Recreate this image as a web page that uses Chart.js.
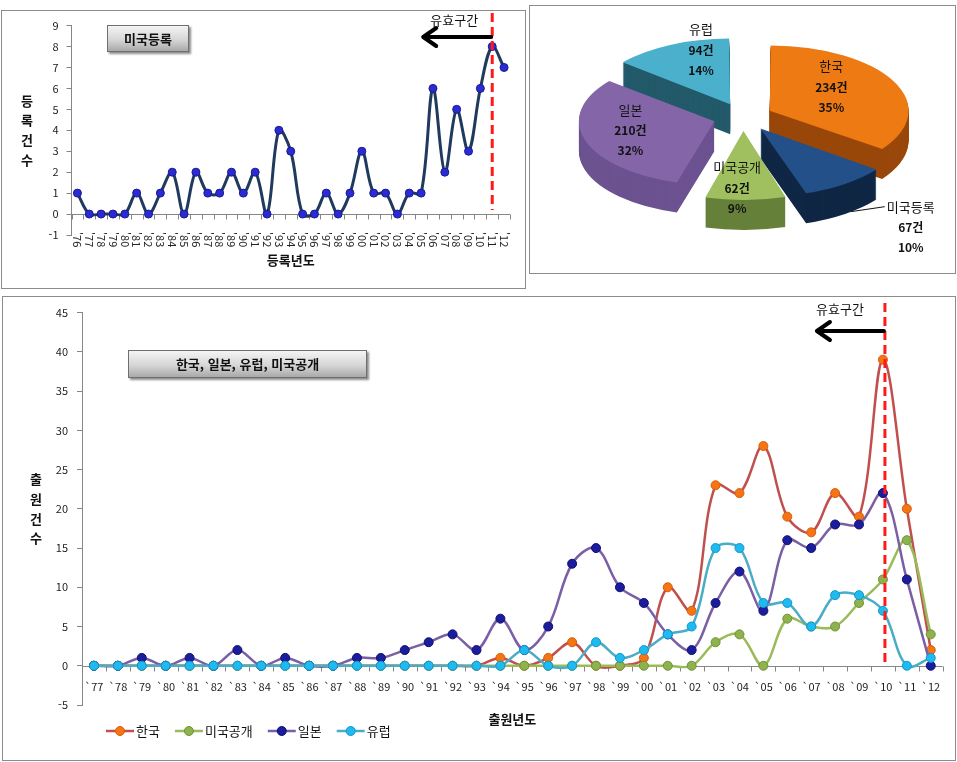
<!DOCTYPE html>
<html lang="ko">
<head>
<meta charset="utf-8">
<script src="https://cdn.jsdelivr.net/npm/chart.js@4.4.1/dist/chart.umd.min.js"></script>
<style>
  body { margin: 0; background: #fff; width: 957px; height: 762px; position: relative; overflow: hidden;
         font-family: 'Noto Sans CJK KR', sans-serif; }
  .panel { position: absolute; border: 1px solid #8c8c8c; box-sizing: border-box; background: #fff; }
  .panel canvas { position: absolute; left: 0; top: 0; }
  .tag { position: absolute; box-sizing: border-box; border: 1px solid #6f6f6f;
         background: linear-gradient(#f4f4f4, #d6d6d6 55%, #a9a9a9);
         box-shadow: 2px 2px 2px rgba(0,0,0,0.45); color: #111; font-weight: bold;
         font-size: 13px; text-align: center; }
</style>
</head>
<body>
<div class="panel" style="left:1px;top:10px;width:525px;height:279px"><canvas id="regChart" width="523" height="277"></canvas></div>
<div class="panel" style="left:529px;top:5px;width:427px;height:269px"><canvas id="shareChart" width="425" height="267"></canvas></div>
<div class="panel" style="left:2px;top:296px;width:954px;height:465px"><canvas id="fileChart" width="952" height="463"></canvas></div>
<div class="tag" style="left:107px;top:25px;width:82px;height:27px;line-height:25px">미국등록</div>
<div class="tag" style="left:128px;top:350px;width:239px;height:28px;line-height:26px">한국, 일본, 유럽, 미국공개</div>

<script>
// ---- data ----
const regYears = ["'76","'77","'78","'79","'80","'81","'82","'83","'84","'85","'86","'87","'88","'89",
  "'90","'91","'92","'93","'94","'95","'96","'97","'98","'99","'00","'01","'02","'03","'04","'05",
  "'06","'07","'08","'09","'10","'11","'12"];
const usRegistered = [1,0,0,0,0,1,0,1,2,0,2,1,1,2,1,2,0,4,3,0,0,1,0,1,3,1,1,0,1,1,6,2,5,3,6,8,7];
const regCutoff = "'11";

const fileYears = ["`77","`78","`79","`80","`81","`82","`83","`84","`85","`86","`87","`88","`89",
  "`90","`91","`92","`93","`94","`95","`96","`97","`98","`99","`00","`01","`02","`03","`04","`05",
  "`06","`07","`08","`09","`10","`11","`12"];
const korea  = [0,0,0,0,0,0,0,0,0,0,0,0,0,0,0,0,0,1,0,1,3,0,0,1,10,7,23,22,28,19,17,22,19,39,20,2];
const usPub  = [0,0,0,0,0,0,0,0,0,0,0,0,0,0,0,0,0,0,0,0,0,0,0,0,0,0,3,4,0,6,5,5,8,11,16,4];
const japan  = [0,0,1,0,1,0,2,0,1,0,0,1,1,2,3,4,2,6,2,5,13,15,10,8,4,2,8,12,7,16,15,18,18,22,11,0];
const europe = [0,0,0,0,0,0,0,0,0,0,0,0,0,0,0,0,0,0,2,0,0,3,1,2,4,5,15,15,8,8,5,9,9,7,0,1];
const fileCutoff = "`10";

const shareLabels = ['한국', '미국등록', '미국공개', '일본', '유럽'];
const shareCounts = [234, 67, 62, 210, 94];
const sharePct = [35, 10, 9, 32, 14];

const regTicks = [-1, 9, 1];
const fileTicks = [-5, 45, 5];

// ---- shared ----
const FONT = "'Noto Sans CJK KR', 'DejaVu Sans', sans-serif";
Chart.defaults.font.family = FONT;
Chart.defaults.color = '#222';
Chart.defaults.animation = false;
const AXIS = '#868686';

function yAxis(ticks, width, pad) {
  return {
    min: ticks[0], max: ticks[1],
    ticks: { stepSize: ticks[2], padding: pad, font: { size: 11 }, color: '#222' },
    grid: { drawOnChartArea: false, tickLength: 5, color: AXIS },
    border: { color: AXIS },
    afterFit(s) { s.width = width; }
  };
}

function zeroAxis(chart, tickLen) {
  const { ctx, chartArea: a, scales: { x, y } } = chart;
  const y0 = Math.round(y.getPixelForValue(0)) + 0.5;
  const step = x.getPixelForValue(1) - x.getPixelForValue(0);
  ctx.save();
  ctx.strokeStyle = AXIS;
  ctx.lineWidth = 1;
  ctx.beginPath();
  ctx.moveTo(a.left, y0);
  ctx.lineTo(a.right, y0);
  for (let i = 0; i <= chart.data.labels.length; i++) {
    const px = Math.round(x.getPixelForValue(i) - step / 2) + 0.5;
    ctx.moveTo(px, y0);
    ctx.lineTo(px, y0 + tickLen);
  }
  ctx.stroke();
  ctx.restore();
}

function stackedTitle(ctx, text, cx, cy, gap) {
  ctx.save();
  ctx.font = 'bold 13px ' + FONT;
  ctx.fillStyle = '#111';
  ctx.textAlign = 'center';
  ctx.textBaseline = 'middle';
  const chars = [...text];
  chars.forEach((ch, i) => ctx.fillText(ch, cx, cy + (i - (chars.length - 1) / 2) * gap));
  ctx.restore();
}

function cutoffMark(ctx, px, top, bottom, arrowY, arrowLen, textX, textY) {
  ctx.save();
  ctx.strokeStyle = '#ff1a1a';
  ctx.lineWidth = 3;
  ctx.setLineDash([9, 5]);
  ctx.beginPath();
  ctx.moveTo(px, top);
  ctx.lineTo(px, bottom);
  ctx.stroke();
  ctx.setLineDash([]);
  ctx.strokeStyle = '#000';
  ctx.lineWidth = 4;
  ctx.lineCap = 'round';
  ctx.lineJoin = 'round';
  const xl = px - arrowLen;
  ctx.beginPath();
  ctx.moveTo(px - 1, arrowY);
  ctx.lineTo(xl, arrowY);
  ctx.moveTo(xl + 13, arrowY - 9);
  ctx.lineTo(xl, arrowY);
  ctx.lineTo(xl + 13, arrowY + 9);
  ctx.stroke();
  ctx.font = '13px ' + FONT;
  ctx.fillStyle = '#111';
  ctx.textAlign = 'center';
  ctx.textBaseline = 'middle';
  ctx.fillText('유효구간', textX, textY);
  ctx.restore();
}

// ---- US registration line ----
const regDecor = {
  id: 'regDecor',
  beforeDatasetsDraw(chart) { zeroAxis(chart, 5); },
  afterDraw(chart) {
    const { ctx, chartArea: a, scales: { x, y } } = chart;
    ctx.save();
    ctx.font = '11px ' + FONT;
    ctx.fillStyle = '#222';
    ctx.textAlign = 'left';
    ctx.textBaseline = 'middle';
    chart.data.labels.forEach((lbl, i) => {
      ctx.save();
      ctx.translate(x.getPixelForValue(i), a.bottom - 3);
      ctx.rotate(Math.PI / 2);
      ctx.fillText(lbl, 0, 0);
      ctx.restore();
    });
    ctx.font = 'bold 13px ' + FONT;
    ctx.fillStyle = '#111';
    ctx.textAlign = 'center';
    ctx.fillText('등록년도', (a.left + a.right) / 2, 249);
    ctx.restore();
    stackedTitle(ctx, '등록건수', 25, (a.top + a.bottom) / 2, 19.7);
    const px = x.getPixelForValue(chart.data.labels.indexOf(regCutoff));
    cutoffMark(ctx, px, 2, y.getPixelForValue(0) - 4, 26, 69, px - 38, 9);
  }
};

new Chart(document.getElementById('regChart'), {
  type: 'line',
  data: {
    labels: regYears,
    datasets: [{
      label: '미국등록',
      data: usRegistered,
      borderColor: '#1f3a5c',
      borderWidth: 3,
      tension: 0.35,
      pointRadius: 4,
      pointBackgroundColor: '#2b2bd6',
      pointBorderColor: '#1a1a8c',
      pointBorderWidth: 1
    }]
  },
  options: {
    responsive: false,
    layout: { padding: { left: 0, right: 15, top: 11, bottom: 53 } },
    scales: {
      x: { display: false, offset: true },
      y: yAxis(regTicks, 69.5, 8)
    },
    plugins: { legend: { display: false }, tooltip: { enabled: false } }
  },
  plugins: [regDecor]
});

// ---- share pie (tilted, exploded) ----
const topColors = ['#ee7a14', '#24508a', '#a0c060', '#8466a8', '#4bb0cc'];
const sideColors = ['#99470a', '#0f2744', '#66803a', '#6c5290', '#235a6a'];
const TILT = 0.47, DEPTH = 30;
const labelPlace = [
  { r: 99, dx: 0, dy: -9 },
  null,
  { r: 151, dx: -8, dy: 0 },
  { r: 118, dx: 0, dy: -3 },
  { r: 98, dx: 0, dy: -25 }
];

const pie3d = {
  id: 'pie3d',
  beforeDatasetsDraw(chart) {
    const ctx = chart.ctx;
    const arcs = chart.getDatasetMeta(0).data;
    const cx = arcs[0].x, cy = arcs[0].y;
    for (let d = DEPTH; d >= 1; d--) {
      ctx.save();
      ctx.translate(cx, cy + d);
      ctx.scale(1, TILT);
      ctx.translate(-cx, -cy);
      arcs.forEach((arc, i) => {
        const side = Object.create(arc);
        side.options = Object.assign({}, arc.options, { backgroundColor: sideColors[i], borderColor: sideColors[i], borderWidth: 0 });
        side.draw(ctx);
      });
      ctx.restore();
    }
    ctx.save();
    ctx.translate(cx, cy);
    ctx.scale(1, TILT);
    ctx.translate(-cx, -cy);
  },
  afterDatasetsDraw(chart) { chart.ctx.restore(); },
  afterDraw(chart) {
    const ctx = chart.ctx;
    const arcs = chart.getDatasetMeta(0).data;
    const cx = arcs[0].x, cy = arcs[0].y;
    ctx.save();
    ctx.fillStyle = '#111';
    ctx.textAlign = 'center';
    ctx.textBaseline = 'middle';
    const lines = (i, x, y) => {
      ctx.font = '13px ' + FONT;
      ctx.fillText(chart.data.labels[i], x, y - 21);
      ctx.font = 'bold 12px ' + FONT;
      ctx.fillText(shareCounts[i] + '건', x, y);
      ctx.fillText(sharePct[i] + '%', x, y + 20);
    };
    arcs.forEach((arc, i) => {
      const mid = (arc.startAngle + arc.endAngle) / 2;
      const p = labelPlace[i];
      if (p) {
        lines(i, cx + Math.cos(mid) * p.r + p.dx, cy + Math.sin(mid) * p.r * TILT + p.dy);
      } else {
        const ax = cx + Math.cos(mid) * 185;
        const ay = cy + Math.sin(mid) * 185 * TILT + 24;
        ctx.strokeStyle = '#111';
        ctx.lineWidth = 1;
        ctx.beginPath();
        ctx.moveTo(ax, ay);
        ctx.lineTo(ax + 34, ay - 5);
        ctx.stroke();
        lines(i, ax + 60, ay + 16);
      }
    });
    ctx.restore();
  }
};

new Chart(document.getElementById('shareChart'), {
  type: 'pie',
  data: {
    labels: shareLabels,
    datasets: [{ data: shareCounts, backgroundColor: topColors, borderWidth: 0, offset: 120 }]
  },
  options: {
    responsive: false,
    radius: 133,
    rotation: 0,
    layout: { padding: { left: 1, right: 0, top: 0, bottom: 45 } },
    plugins: { legend: { display: false }, tooltip: { enabled: false } }
  },
  plugins: [pie3d]
});

// ---- filings by office ----
const fileDecor = {
  id: 'fileDecor',
  beforeDatasetsDraw(chart) { zeroAxis(chart, 5); },
  afterDraw(chart) {
    const { ctx, chartArea: a, scales: { x, y } } = chart;
    const y0 = y.getPixelForValue(0);
    ctx.save();
    ctx.font = '11px ' + FONT;
    ctx.fillStyle = '#222';
    ctx.textAlign = 'center';
    ctx.textBaseline = 'middle';
    chart.data.labels.forEach((lbl, i) => ctx.fillText(lbl, x.getPixelForValue(i), y0 + 21));
    ctx.font = 'bold 13px ' + FONT;
    ctx.fillStyle = '#111';
    ctx.fillText('출원년도', (a.left + a.right) / 2, 422);
    // legend
    let lx = a.left + 24;
    const ly = 434;
    chart.data.datasets.forEach(ds => {
      ctx.strokeStyle = ds.borderColor;
      ctx.lineWidth = 2.5;
      ctx.beginPath();
      ctx.moveTo(lx, ly);
      ctx.lineTo(lx + 28, ly);
      ctx.stroke();
      ctx.fillStyle = ds.pointBackgroundColor;
      ctx.strokeStyle = ds.pointBorderColor;
      ctx.lineWidth = 1;
      ctx.beginPath();
      ctx.arc(lx + 14, ly, 4.5, 0, Math.PI * 2);
      ctx.fill();
      ctx.stroke();
      ctx.font = '13px ' + FONT;
      ctx.fillStyle = '#111';
      ctx.textAlign = 'left';
      ctx.fillText(ds.label, lx + 30, ly);
      lx += 30 + ctx.measureText(ds.label).width + 15;
    });
    ctx.restore();
    stackedTitle(ctx, '출원건수', 33, (a.top + a.bottom) / 2, 19.7);
    const px = x.getPixelForValue(chart.data.labels.indexOf(fileCutoff)) + 2;
    cutoffMark(ctx, px, 6, y0 - 2, 34, 68, px - 45, 12);
  }
};

function series(label, data, line, fill, edge, order) {
  return {
    label, data, order,
    borderColor: line,
    borderWidth: 2.5,
    tension: 0.35,
    pointRadius: 4.5,
    pointBackgroundColor: fill,
    pointBorderColor: edge,
    pointBorderWidth: 1
  };
}

new Chart(document.getElementById('fileChart'), {
  type: 'line',
  data: {
    labels: fileYears,
    datasets: [
      series('한국', korea, '#c0504d', '#f57414', '#d95a0a', 3),
      series('미국공개', usPub, '#9bbb59', '#8db24e', '#6f9236', 2),
      series('일본', japan, '#7a5fa5', '#1c1c9e', '#10106e', 1),
      series('유럽', europe, '#4bacc6', '#1fbaf0', '#0f98cc', 0)
    ]
  },
  options: {
    responsive: false,
    layout: { padding: { left: 0, right: 12.3, top: 8.7, bottom: 55 } },
    scales: {
      x: { display: false, offset: true },
      y: yAxis(fileTicks, 79, 9)
    },
    plugins: { legend: { display: false }, tooltip: { enabled: false } }
  },
  plugins: [fileDecor]
});
</script>
</body>
</html>
